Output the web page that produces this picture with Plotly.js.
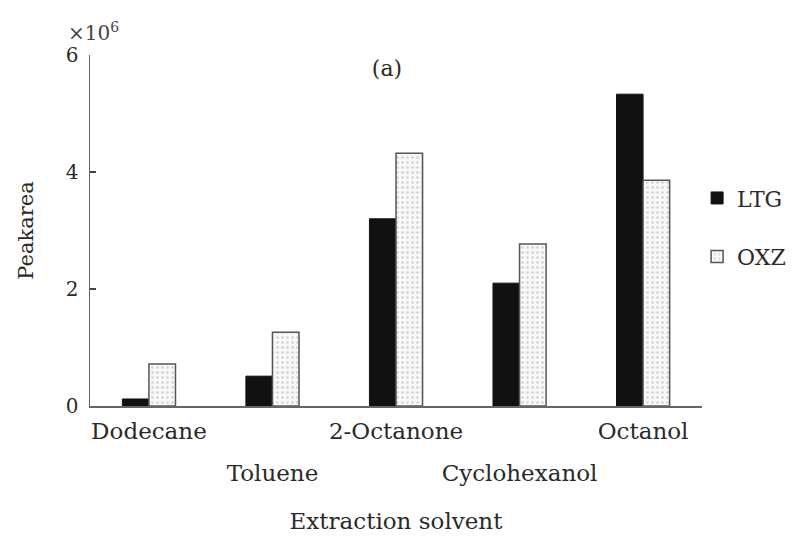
<!DOCTYPE html>
<html>
<head>
<meta charset="utf-8">
<script src="https://cdn.plot.ly/plotly-3.0.1.min.js"></script>
<style>html,body{margin:0;padding:0;background:#fff;}#chart{width:803px;height:541px;}</style>
</head>
<body>
<div id="chart"></div>
<script>
const categories = ["Dodecane", "Toluene", "2-Octanone", "Cyclohexanol", "Octanol"];
const ltgValues = [0.12, 0.51, 3.20, 2.10, 5.33];
const oxzValues = [0.72, 1.26, 4.32, 2.77, 3.86];
const yTickValues = [0, 2, 4, 6];
const yTickLabels = ["0", "2", "4", "6"];

const positions = categories.map((_, i) => i);
const upperIdx = positions.filter(i => i % 2 === 0);
const lowerIdx = positions.filter(i => i % 2 === 1);

const FONT = "DejaVu Serif, Liberation Serif, serif";
const TXT = "#2a2a2a";
const BW = 0.215;

const traces = [
  {
    type: "bar", name: "LTG", x: positions, y: ltgValues,
    width: BW, offset: -BW,
    marker: {color: "#111111", line: {color: "#111111", width: 1}},
    legendgroup: "a"
  },
  {
    type: "bar", name: "OXZ", x: positions, y: oxzValues,
    width: BW, offset: 0,
    marker: {color: "#f6f6f6", line: {color: "#555555", width: 1.5},
      pattern: {shape: ".", fgcolor: "#d2d2d2", bgcolor: "#f8f8f8", size: 5, solidity: 0.2}},
    legendgroup: "b"
  },
  {
    // invisible carrier so the staggered second label row (xaxis2) is drawn
    type: "scatter", mode: "markers", x: positions, y: oxzValues,
    xaxis: "x2", yaxis: "y", marker: {opacity: 0, size: 1},
    showlegend: false, hoverinfo: "skip"
  }
];

const layout = {
  width: 803, height: 541,
  margin: {l: 90, r: 90, t: 55, b: 135},
  paper_bgcolor: "#ffffff", plot_bgcolor: "#ffffff",
  font: {family: FONT, color: TXT, size: 20},
  title: {text: "(a)", x: 387 / 803, xanchor: "center", y: 1 - 68 / 541, yanchor: "middle", yref: "container",
          font: {family: FONT, size: 22, color: TXT}},
  xaxis: {
    range: [-0.477, 4.477], showgrid: false, zeroline: false,
    showline: true, linecolor: "#666", linewidth: 1.5,
    ticks: "", tickmode: "array",
    tickvals: upperIdx, ticktext: upperIdx.map(i => categories[i]),
    tickfont: {family: FONT, size: 23, color: TXT},
    ticklabelstandoff: 4
  },
  xaxis2: {
    overlaying: "x", anchor: "y", side: "bottom",
    range: [-0.477, 4.477], showgrid: false, zeroline: false, showline: false,
    ticks: "", tickmode: "array",
    tickvals: lowerIdx, ticktext: lowerIdx.map(i => categories[i]),
    tickfont: {family: FONT, size: 23, color: TXT},
    ticklabelstandoff: 51,
    title: {text: "Extraction solvent", font: {family: FONT, size: 23, color: TXT}, standoff: 27}
  },
  yaxis: {
    range: [0, 6], showgrid: false, zeroline: false,
    showline: true, linecolor: "#666", linewidth: 1.5,
    ticks: "inside", ticklen: 6, tickcolor: "#444", tickwidth: 1.5,
    tickmode: "array", tickvals: yTickValues, ticktext: yTickLabels,
    tickfont: {family: FONT, size: 20, color: TXT},
    ticklabelstandoff: 6,
    title: {text: "Peakarea", font: {family: FONT, size: 21, color: TXT}, standoff: 26}
  },
  showlegend: true,
  legend: {
    x: (708 - 90) / 623, xanchor: "left", y: 0.652, yanchor: "top",
    font: {family: FONT, size: 22, color: TXT},
    tracegroupgap: 27, traceorder: "grouped",
    bgcolor: "rgba(0,0,0,0)", borderwidth: 0, itemwidth: 30
  },
  annotations: [
    {text: "×10<sup>6</sup>", xref: "paper", yref: "paper", x: -0.04, y: 1.0, xanchor: "left", yanchor: "bottom",
     yshift: 8, showarrow: false, font: {family: FONT, size: 20, color: "#444"}}
  ]
};

Plotly.newPlot("chart", traces, layout, {displayModeBar: false, staticPlot: true});
</script>
</body>
</html>
